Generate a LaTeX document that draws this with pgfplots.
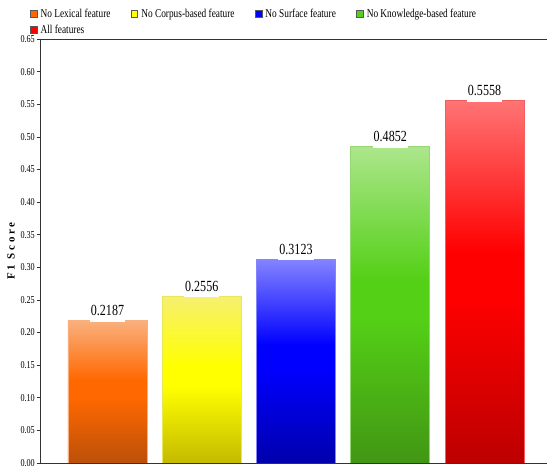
\documentclass[border=0pt]{standalone}
\usepackage{pgfplots}
\pgfplotsset{compat=1.18}
\usepackage{fontspec}
\setmainfont{Liberation Serif}[FakeStretch=0.78]
\newfontfamily\ylabfont{Liberation Serif}[LetterSpace=25]

% gradient colours: top / middle / bottom of each bar
\definecolor{oTop}{RGB}{250,176,126}
\definecolor{oMid}{RGB}{255,104,0}
\definecolor{oBot}{RGB}{188,80,10}
\definecolor{yTop}{RGB}{246,240,112}
\definecolor{yMid}{RGB}{255,255,0}
\definecolor{yBot}{RGB}{196,186,0}
\definecolor{bTop}{RGB}{132,132,255}
\definecolor{bMid}{RGB}{0,0,255}
\definecolor{bBot}{RGB}{0,0,172}
\definecolor{gTop}{RGB}{172,230,140}
\definecolor{gMid}{RGB}{84,208,22}
\definecolor{gBot}{RGB}{66,150,20}
\definecolor{rTop}{RGB}{255,116,116}
\definecolor{rMid}{RGB}{255,0,0}
\definecolor{rBot}{RGB}{188,0,0}

% vertical shadings, bottom to top (25bp..75bp covers the bar)
\pgfdeclareverticalshading{shO}{100bp}{color(0bp)=(oBot); color(25bp)=(oBot); color(48bp)=(oMid); color(54bp)=(oMid); color(75bp)=(oTop); color(100bp)=(oTop)}
\pgfdeclareverticalshading{shY}{100bp}{color(0bp)=(yBot); color(25bp)=(yBot); color(48bp)=(yMid); color(54bp)=(yMid); color(75bp)=(yTop); color(100bp)=(yTop)}
\pgfdeclareverticalshading{shB}{100bp}{color(0bp)=(bBot); color(25bp)=(bBot); color(48bp)=(bMid); color(54bp)=(bMid); color(75bp)=(bTop); color(100bp)=(bTop)}
\pgfdeclareverticalshading{shG}{100bp}{color(0bp)=(gBot); color(25bp)=(gBot); color(48bp)=(gMid); color(54bp)=(gMid); color(75bp)=(gTop); color(100bp)=(gTop)}
\pgfdeclareverticalshading{shR}{100bp}{color(0bp)=(rBot); color(25bp)=(rBot); color(48bp)=(rMid); color(54bp)=(rMid); color(75bp)=(rTop); color(100bp)=(rTop)}

\begin{document}
\begin{tikzpicture}
\begin{axis}[
    name=ax,
    width=507bp, height=424bp,
    scale only axis,
    xmin=-0.716, xmax=4.663,
    ymin=0, ymax=0.65,
    enlargelimits=false,
    axis lines*=left,
    axis line style={-, black!80, line width=0.9bp},
    xtick=\empty,
    ytick={0,0.05,0.10,0.15,0.20,0.25,0.30,0.35,0.40,0.45,0.50,0.55,0.60,0.65},
    ytick pos=left,
    tick align=outside,
    major tick length=3.5bp,
    tick style={black!80, line width=0.6bp},
    extra y ticks={0.65},
    extra y tick labels={},
    extra y tick style={grid=major, major grid style={black!80, line width=0.9bp}, major tick length=0pt},
    yticklabel style={
        /pgf/number format/.cd, fixed, fixed zerofill, precision=2, assume math mode=true,
        /tikz/.cd, font=\fontsize{10.5}{12}\selectfont, inner xsep=1.5bp},
    ylabel={F1 Score},
    every axis y label/.style={at={(axis description cs:-0.057,0.5)}, rotate=90, anchor=center,
        font=\ylabfont\bfseries\fontsize{11}{12}\selectfont},
    legend image code/.code={\draw[#1] (0bp,-3.7bp) rectangle (6.5bp,3.7bp);},
    legend columns=4,
    legend style={at={(axis description cs:0,1)}, anchor=south west, xshift=-10bp, yshift=2bp,
        draw=none, fill=none, inner sep=0pt,
        font=\fontsize{12}{13}\selectfont,
        row sep=2bp,
        /tikz/every odd column/.append style={column sep=1.5bp},
        /tikz/every even column/.append style={column sep=18.5bp}},
    legend cell align=left,
    bar style/.style={ybar, bar width=79bp, bar shift=0pt, forget plot, line width=0.6bp},
]
\addlegendimage{fill=oMid, draw=black!65}
\addlegendentry{No Lexical feature}
\addlegendimage{fill=yMid, draw=black!65}
\addlegendentry{No Corpus-based feature}
\addlegendimage{fill=bMid, draw=black!65}
\addlegendentry{No Surface feature}
\addlegendimage{fill=gMid, draw=black!65}
\addlegendentry{No Knowledge-based feature}
\addlegendimage{fill=rMid, draw=black!65}
\addlegendentry{All features}

\addplot[bar style, draw=oTop, shading=shO] coordinates {(0,0.2187)};
\addplot[bar style, draw=yTop!80!yBot, shading=shY] coordinates {(1,0.2556)};
\addplot[bar style, draw=bTop, shading=shB] coordinates {(2,0.3123)};
\addplot[bar style, draw=gTop!80!gBot, shading=shG] coordinates {(3,0.4852)};
\addplot[bar style, draw=rTop!80!rBot, shading=shR] coordinates {(4,0.5558)};

% value labels above the bars
\addplot[only marks, mark=none, forget plot,
    nodes near coords={\pgfmathprintnumber[fixed, fixed zerofill, precision=4, assume math mode=true]{\pgfplotspointmeta}},
    every node near coord/.append style={anchor=base, yshift=4.5bp, fill=white, text=black,
        inner xsep=1bp, inner ysep=5.5bp, font=\fontsize{15.5}{17}\selectfont}]
    coordinates {(0,0.2187) (1,0.2556) (2,0.3123) (3,0.4852) (4,0.5558)};
\end{axis}
\pgfresetboundingbox
\path[use as bounding box] ([shift={(-40bp,-9bp)}]ax.south west) rectangle ([shift={(0bp,39bp)}]ax.north east);
\end{tikzpicture}
\end{document}
